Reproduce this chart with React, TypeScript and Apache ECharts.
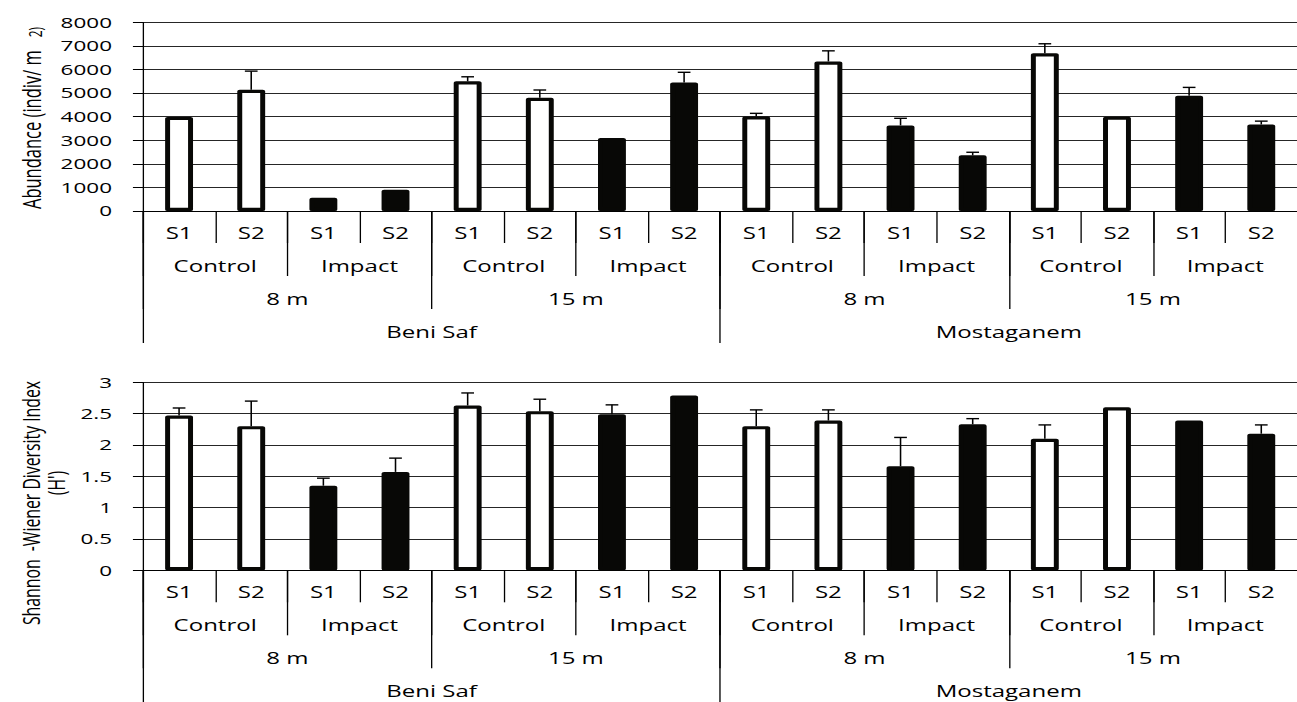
import React, { useEffect, useRef } from 'react';
import * as echarts from 'echarts';

// ---- data ----
const sites = ['Beni Saf', 'Mostaganem'];
const depths = ['8 m', '15 m'];
const treatments = ['Control', 'Impact'];
const stations = ['S1', 'S2'];

const abundance = [3990, 5140, 560, 900, 5500, 4800, 3100, 5450, 4010, 6340, 3630, 2360, 6690, 4000, 4890, 3670];
const abundanceErr = [0, 790, 0, 0, 190, 330, 0, 430, 130, 450, 300, 130, 400, 0, 350, 140];
const shannon = [2.47, 2.3, 1.35, 1.57, 2.63, 2.54, 2.49, 2.79, 2.3, 2.39, 1.66, 2.33, 2.1, 2.6, 2.39, 2.18];
const shannonErr = [0.12, 0.4, 0.12, 0.22, 0.2, 0.19, 0.15, 0, 0.26, 0.17, 0.46, 0.09, 0.22, 0, 0, 0.14];

const abundanceAxis = { min: 0, max: 8000, interval: 1000 };
const shannonAxis = { min: 0, max: 3, interval: 0.5 };

const abundanceTitleMain = 'Abundance (indiv/ m';
const abundanceTitleSup = '2)';
const shannonTitle1 = 'Shannon  -Wiener Diversity Index';
const shannonTitle2 = "(H')";

// ---- layout ----
const W = 1297;
const H = 702;
const S = 1.55; // horizontal stretch of the reference picture
const CW = W / S;
const FONT = "'Open Sans', 'DejaVu Sans', sans-serif";

type Level = { ids: string[]; labels: Record<string, string> };

function buildLevels() {
  const l1: Level = { ids: [], labels: {} };
  const l2: Level = { ids: [], labels: {} };
  const l3: Level = { ids: [], labels: {} };
  const l4: Level = { ids: [], labels: {} };
  const impact: boolean[] = [];
  sites.forEach((site, si) => {
    const id4 = `${si}`;
    l4.ids.push(id4);
    l4.labels[id4] = site;
    depths.forEach((depth, di) => {
      const id3 = `${si}-${di}`;
      l3.ids.push(id3);
      l3.labels[id3] = depth;
      treatments.forEach((tr, ti) => {
        const id2 = `${si}-${di}-${ti}`;
        l2.ids.push(id2);
        l2.labels[id2] = tr;
        stations.forEach((st, sti) => {
          const id1 = `${si}-${di}-${ti}-${sti}`;
          l1.ids.push(id1);
          l1.labels[id1] = st;
          impact.push(ti === 1);
        });
      });
    });
  });
  return { levels: [l1, l2, l3, l4], impact };
}

const { levels, impact } = buildLevels();

const tickLengths = [32, 65, 98, 132];
const labelMargins = [14, 47, 80, 113];

function xAxesFor(gridIndex: number) {
  return levels.map((lv, li) => ({
    type: 'category',
    gridIndex,
    position: 'bottom',
    data: lv.ids,
    boundaryGap: true,
    axisLine: { show: li === 0, lineStyle: { color: '#000', width: 1 } },
    axisTick: { show: true, interval: 0, length: tickLengths[li], lineStyle: { color: '#000', width: 0.85 } },
    axisLabel: {
      interval: 0,
      margin: labelMargins[li],
      fontSize: 15.5,
      color: '#000',
      fontFamily: FONT,
      formatter: (v: string) => lv.labels[v],
    },
    splitLine: { show: false },
  }));
}

function yAxisFor(gridIndex: number, ax: { min: number; max: number; interval: number }) {
  return {
    type: 'value',
    gridIndex,
    min: ax.min,
    max: ax.max,
    interval: ax.interval,
    axisLine: { show: true, lineStyle: { color: '#000', width: 0.85 } },
    axisTick: { show: true, length: 6.5, lineStyle: { color: '#000', width: 1 } },
    axisLabel: {
      margin: 20,
      fontSize: 14.5,
      color: '#000',
      fontFamily: FONT,
      formatter: (v: number) => String(v),
    },
    splitLine: { show: true, lineStyle: { color: '#262626', width: 1.2 } },
  };
}

function seriesFor(gridIndex: number, values: number[], errs: number[]) {
  const xIdx = gridIndex * 4;
  return [
    {
      type: 'bar',
      xAxisIndex: xIdx,
      yAxisIndex: gridIndex,
      barWidth: 18,
      data: values.map((v, i) => ({
        value: v,
        itemStyle: { color: impact[i] ? '#080806' : '#ffffff' },
      })),
      itemStyle: { borderColor: '#080806', borderWidth: 3.2, borderJoin: 'round' },
      z: 2,
    },
    {
      type: 'custom',
      xAxisIndex: xIdx,
      yAxisIndex: gridIndex,
      z: 5,
      encode: { x: 0, y: 1 },
      data: values.map((v, i) => [i, v, errs[i]]),
      renderItem: (params: any, api: any) => {
        const e = api.value(2);
        if (!e) return { type: 'group', children: [] };
        const p0 = api.coord([api.value(0), api.value(1)]);
        const p1 = api.coord([api.value(0), api.value(1) + e]);
        const half = 4.1;
        return {
          type: 'group',
          children: [
            { type: 'line', shape: { x1: p0[0], y1: p0[1], x2: p1[0], y2: p1[1] }, style: { stroke: '#000', lineWidth: 1 } },
            { type: 'line', shape: { x1: p1[0] - half, y1: p1[1], x2: p1[0] + half, y2: p1[1] }, style: { stroke: '#000', lineWidth: 1.4 } },
          ],
        };
      },
    },
  ];
}

export default function App() {
  const ref = useRef<HTMLDivElement>(null);
  useEffect(() => {
    if (!ref.current) return;
    const chart = echarts.init(ref.current, undefined, { renderer: 'svg' });
    chart.setOption({
      animation: false,
      backgroundColor: '#ffffff',
      grid: [
        { left: 143 / S, top: 22.3, height: 188.7, width: 1162.7 / S },
        { left: 143 / S, top: 382.3, height: 188, width: 1155 / S },
      ],
      xAxis: [...xAxesFor(0), ...xAxesFor(1)],
      yAxis: [yAxisFor(0, abundanceAxis), yAxisFor(1, shannonAxis)],
      series: [...seriesFor(0, abundance, abundanceErr), ...seriesFor(1, shannon, shannonErr)],
      graphic: [
        {
          type: 'text',
          x: 31 / S,
          y: 118,
          rotation: Math.PI / 2,
          style: {
            text: `{a|${abundanceTitleMain}}{g|   }{b|${abundanceTitleSup}}`,
            rich: {
              a: { fontSize: 16.5, fontFamily: FONT, fill: '#000', verticalAlign: 'bottom' },
              g: { fontSize: 16.5, fontFamily: FONT, fill: '#000' },
              b: { fontSize: 12, fontFamily: FONT, fill: '#000', verticalAlign: 'bottom' },
            },
            align: 'center',
            verticalAlign: 'middle',
          },
        },
        {
          type: 'text',
          x: 30 / S,
          y: 503,
          rotation: Math.PI / 2,
          style: { text: shannonTitle1, fontSize: 15.8, fontFamily: FONT, fill: '#000', align: 'center', verticalAlign: 'middle' },
        },
        {
          type: 'text',
          x: 55 / S,
          y: 483,
          rotation: Math.PI / 2,
          style: { text: shannonTitle2, fontSize: 15.8, fontFamily: FONT, fill: '#000', align: 'center', verticalAlign: 'middle' },
        },
      ],
    });
    return () => chart.dispose();
  }, []);
  return (
    <div style={{ position: 'absolute', left: 0, top: 0, width: W, height: H, overflow: 'hidden', background: '#fff' }}>
      <div
        ref={ref}
        style={{ width: CW, height: H, transform: `scaleX(${S})`, transformOrigin: '0 0' }}
      />
    </div>
  );
}
